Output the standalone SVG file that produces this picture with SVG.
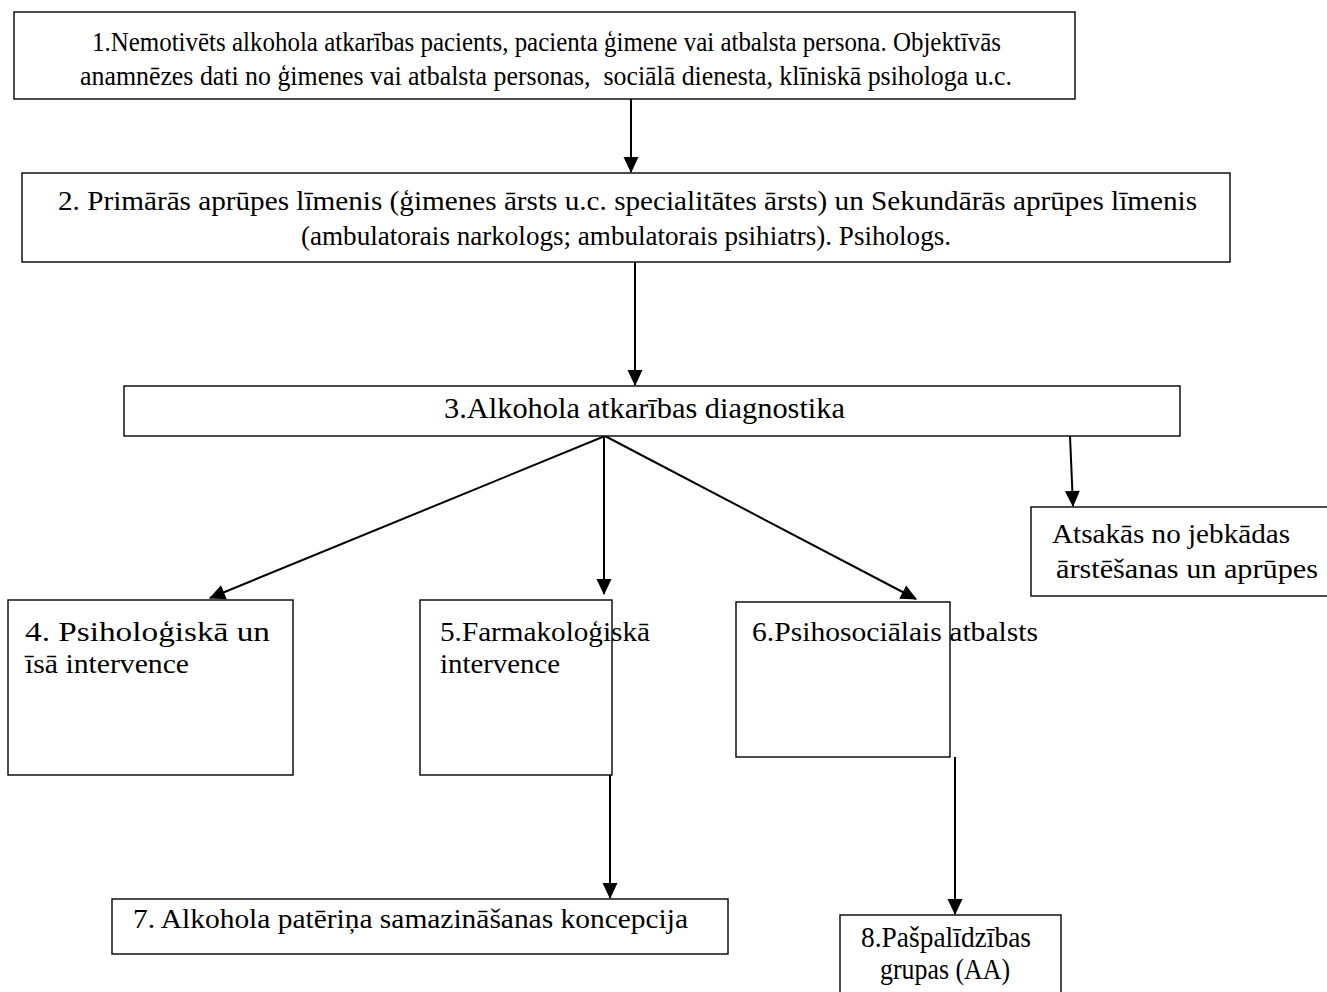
<svg xmlns="http://www.w3.org/2000/svg" width="1327" height="992" viewBox="0 0 1327 992">
<style>
.box{fill:#fff;stroke:#000;stroke-width:1.4}
.t{font-family:"Liberation Serif","Times New Roman",serif;font-size:28px;fill:#000}
.c{stroke:#000;stroke-width:2;fill:none}
</style>
<defs>
<marker id="ah" markerWidth="16" markerHeight="15" viewBox="0 0 16 15" refX="15" refY="7.5" orient="auto" markerUnits="userSpaceOnUse" overflow="visible">
<path d="M0,0 L16,7.5 L0,15 Z" fill="#000"/>
</marker>
</defs>
<rect width="1327" height="992" fill="#fff"/>
<g id="connectors">
<line class="c" x1="631" y1="99" x2="631" y2="172" marker-end="url(#ah)"/>
<line class="c" x1="635" y1="262" x2="635" y2="385" marker-end="url(#ah)"/>
<line class="c" x1="605" y1="436" x2="210" y2="598" marker-end="url(#ah)"/>
<line class="c" x1="604" y1="436" x2="604" y2="594" marker-end="url(#ah)"/>
<line class="c" x1="605" y1="436" x2="916" y2="599" marker-end="url(#ah)"/>
<line class="c" x1="1070" y1="436" x2="1073" y2="506" marker-end="url(#ah)"/>
<line class="c" x1="610" y1="775" x2="610" y2="898" marker-end="url(#ah)"/>
<line class="c" x1="955" y1="757" x2="955" y2="914" marker-end="url(#ah)"/>
</g>
<g id="n1">
<rect class="box" x="14" y="12" width="1061" height="87"/>
<text class="t" x="92" y="51" textLength="909" lengthAdjust="spacingAndGlyphs">1.Nemotivēts alkohola atkarības pacients, pacienta ģimene vai atbalsta persona. Objektīvās</text>
<text class="t" x="80" y="85" textLength="932" lengthAdjust="spacingAndGlyphs" xml:space="preserve">anamnēzes dati no ģimenes vai atbalsta personas,  sociālā dienesta, klīniskā psihologa u.c.</text>
</g>
<g id="n2">
<rect class="box" x="22" y="173" width="1208" height="89"/>
<text class="t" x="58" y="210" textLength="1139" lengthAdjust="spacingAndGlyphs">2. Primārās aprūpes līmenis (ģimenes ārsts u.c. specialitātes ārsts) un Sekundārās aprūpes līmenis</text>
<text class="t" x="301" y="245" textLength="650" lengthAdjust="spacingAndGlyphs">(ambulatorais narkologs; ambulatorais psihiatrs). Psihologs.</text>
</g>
<g id="n3">
<rect class="box" x="124" y="386" width="1056" height="50"/>
<text class="t" x="444" y="418" textLength="401" lengthAdjust="spacingAndGlyphs" style="font-size:29px">3.Alkohola atkarības diagnostika</text>
</g>
<g id="n_atsakas">
<rect class="box" x="1031" y="507" width="300" height="89"/>
<text class="t" x="1052" y="543" textLength="238" lengthAdjust="spacingAndGlyphs">Atsakās no jebkādas</text>
<text class="t" x="1056" y="578" textLength="262" lengthAdjust="spacingAndGlyphs">ārstēšanas un aprūpes</text>
</g>
<g id="n4">
<rect class="box" x="8" y="600" width="285" height="175"/>
<text class="t" x="25" y="641" textLength="245" lengthAdjust="spacingAndGlyphs">4. Psiholoģiskā un</text>
<text class="t" x="25" y="673" textLength="164" lengthAdjust="spacingAndGlyphs">īsā intervence</text>
</g>
<g id="n5">
<rect class="box" x="420" y="600" width="192" height="175"/>
<text class="t" x="440" y="641" textLength="210" lengthAdjust="spacingAndGlyphs">5.Farmakoloģiskā</text>
<text class="t" x="440" y="673" textLength="120" lengthAdjust="spacingAndGlyphs">intervence</text>
</g>
<g id="n6">
<rect class="box" x="736" y="602" width="214" height="155"/>
<text class="t" x="752" y="641" textLength="286" lengthAdjust="spacingAndGlyphs">6.Psihosociālais atbalsts</text>
</g>
<g id="n7">
<rect class="box" x="112" y="899" width="616" height="55"/>
<text class="t" x="133" y="928" textLength="555" lengthAdjust="spacingAndGlyphs">7. Alkohola patēriņa samazināšanas koncepcija</text>
</g>
<g id="n8">
<rect class="box" x="840" y="915" width="221" height="80"/>
<text class="t" x="861" y="947" textLength="170" lengthAdjust="spacingAndGlyphs" style="font-size:29px">8.Pašpalīdzības</text>
<text class="t" x="880" y="979" textLength="130" lengthAdjust="spacingAndGlyphs" style="font-size:29px">grupas (AA)</text>
</g>
</svg>
